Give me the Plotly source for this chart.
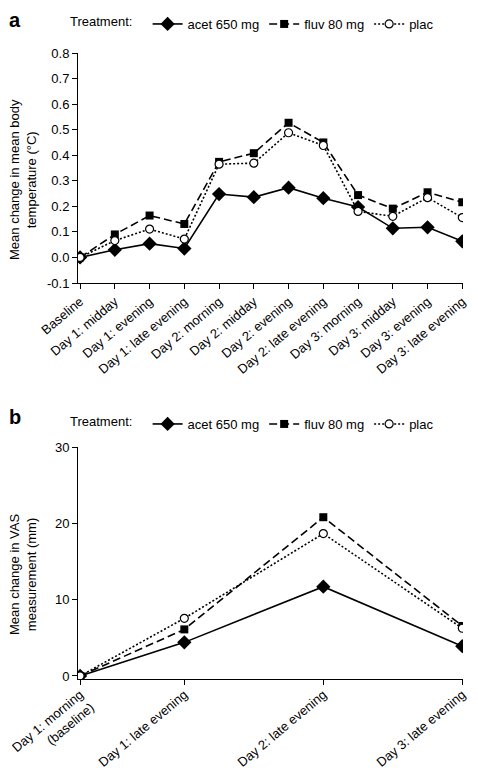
import plotly.graph_objects as go

# ---- data ----
temp_labels = ["Baseline", "Day 1: midday", "Day 1: evening", "Day 1: late evening",
               "Day 2: morning", "Day 2: midday", "Day 2: evening", "Day 2: late evening",
               "Day 3: morning", "Day 3: midday", "Day 3: evening", "Day 3: late evening"]
temp_pos = list(range(12))
temp_acet = [0.0, 0.030, 0.054, 0.035, 0.248, 0.236, 0.273, 0.232, 0.197, 0.114, 0.118, 0.063]
temp_fluv = [0.0, 0.090, 0.164, 0.131, 0.374, 0.408, 0.527, 0.450, 0.244, 0.191, 0.255, 0.216]
temp_plac = [0.0, 0.066, 0.111, 0.072, 0.365, 0.369, 0.488, 0.438, 0.180, 0.161, 0.234, 0.156]

vas_labels = ["Day 1: morning<br>(baseline)", "Day 1: late evening",
              "Day 2: late evening", "Day 3: late evening"]
vas_pos = [0, 3, 7, 11]
vas_acet = [0.0, 4.4, 11.7, 3.9]
vas_fluv = [0.0, 6.1, 20.8, 6.55]
vas_plac = [0.0, 7.55, 18.65, 6.25]

series_names = ["acet 650 mg", "fluv 80 mg", "plac"]

FONT = "Liberation Sans, Arial, Helvetica, sans-serif"

styles = [
    dict(line=dict(color="black", width=1.6, dash="solid"),
         marker=dict(symbol="diamond", size=11, color="black")),
    dict(line=dict(color="black", width=1.6, dash="8px,4px"),
         marker=dict(symbol="square", size=8, color="black")),
    dict(line=dict(color="black", width=1.6, dash="2px,2px"),
         marker=dict(symbol="circle", size=8, color="white",
                     line=dict(color="black", width=1.2))),
]

fig = go.Figure()
for name, ys, st in zip(series_names, [temp_acet, temp_fluv, temp_plac], styles):
    fig.add_trace(go.Scatter(x=temp_pos, y=ys, name=name, mode="lines+markers",
                             xaxis="x", yaxis="y", legend="legend", **st))
for name, ys, st in zip(series_names, [vas_acet, vas_fluv, vas_plac], styles):
    fig.add_trace(go.Scatter(x=vas_pos, y=ys, name=name, mode="lines+markers",
                             xaxis="x2", yaxis="y2", legend="legend2", **st))

# the page body has an 8px margin, so the figure is 8px smaller than the window
OFF = 8
W, H = 478 - OFF, 770 - OFF
def px(v): return (v - OFF) / W
def py(v): return 1 - (v - OFF) / H

axis_common = dict(showline=True, linecolor="black", linewidth=1, ticks="outside",
                   ticklen=5, tickcolor="black", tickwidth=1, showgrid=False,
                   zeroline=False, automargin=False,
                   tickfont=dict(size=13, color="black", family=FONT))

legend_common = dict(orientation="h", xref="container", yref="container",
                     xanchor="left", yanchor="top",
                     title=dict(text="Treatment:  ", font=dict(size=13), side="left"),
                     font=dict(size=13), bgcolor="rgba(0,0,0,0)", itemwidth=30,
                     tracegroupgap=0)

fig.update_layout(
    template="none",
    width=W, height=H, margin=dict(l=0, r=0, t=0, b=0, autoexpand=False),
    paper_bgcolor="white", plot_bgcolor="white",
    font=dict(family=FONT, color="black", size=13),
    xaxis=dict(domain=[px(78), px(463)], range=[-0.06, 11.02], tickmode="array",
               tickvals=temp_pos, ticktext=temp_labels, tickangle=-40,
               anchor="y", **axis_common),
    yaxis=dict(domain=[py(283), py(53)], range=[-0.1, 0.8], tickmode="array",
               tickvals=[-0.1, 0, 0.1, 0.2, 0.3, 0.4, 0.5, 0.6, 0.7, 0.8],
               ticktext=["-0.1", "0.0", "0.1", "0.2", "0.3", "0.4", "0.5", "0.6", "0.7", "0.8"],
               anchor="x", **axis_common),
    xaxis2=dict(domain=[px(78), px(463)], range=[-0.06, 11.02], tickmode="array",
                tickvals=vas_pos, ticktext=vas_labels, tickangle=-40,
                ticklabelstandoff=-3,
                anchor="y2", **axis_common),
    yaxis2=dict(domain=[py(679), py(447)], range=[-0.4, 30], tickmode="array",
                tickvals=[0, 10, 20, 30],
                anchor="x2", **axis_common),
    legend=dict(x=px(68), y=py(9), **legend_common),
    legend2=dict(x=px(68), y=py(409), **legend_common),
    annotations=[
        dict(text="<b>a</b>", x=0, y=1, xref="paper", yref="paper",
             xanchor="left", yanchor="top", showarrow=False, borderpad=0,
             font=dict(size=20)),
        dict(text="<b>b</b>", x=0, y=py(405), xref="paper", yref="paper",
             xanchor="left", yanchor="top", showarrow=False, borderpad=0,
             font=dict(size=20)),
        dict(text="Mean change in mean body<br>temperature (°C)", textangle=-90,
             x=px(23), y=py(180), xref="paper", yref="paper",
             xanchor="center", yanchor="middle", showarrow=False, font=dict(size=13)),
        dict(text="Mean change in VAS<br>measurement (mm)", textangle=-90,
             x=px(23), y=py(574), xref="paper", yref="paper",
             xanchor="center", yanchor="middle", showarrow=False, font=dict(size=13)),
    ],
)

fig.write_html("out.html")
